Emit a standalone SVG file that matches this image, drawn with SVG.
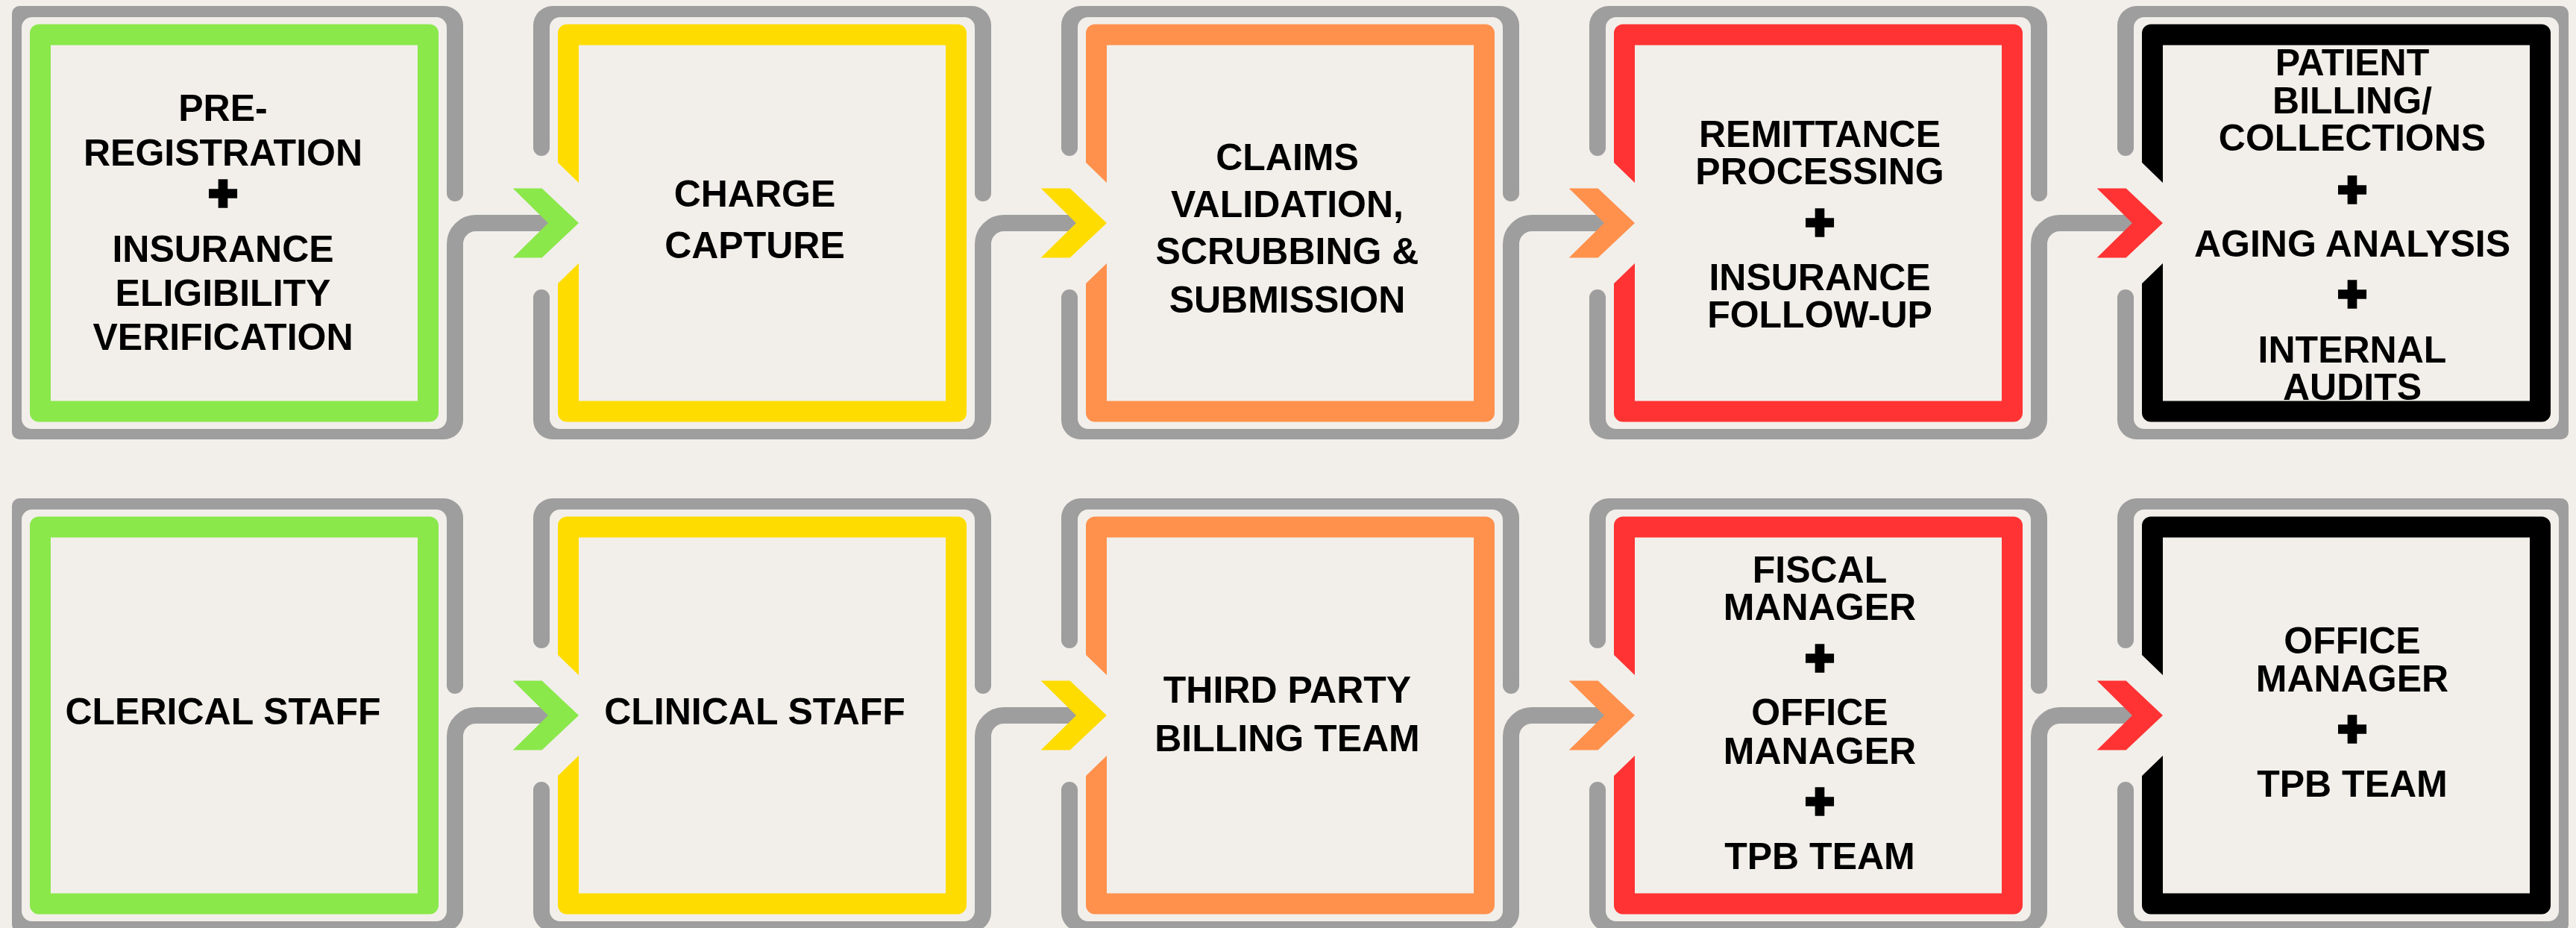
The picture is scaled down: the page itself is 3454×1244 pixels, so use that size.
<svg xmlns="http://www.w3.org/2000/svg" width="3454" height="1244" viewBox="0 0 3454 1244">
  <defs>
    <style>
      .bg{fill:#F2EFEA}
      .gray{fill:#9E9E9E}
      .frame{fill:#9E9E9E;fill-rule:evenodd}
      .link{fill:none;stroke:#9E9E9E;stroke-width:22}
      .green{fill:#8AE84A}
      .yellow{fill:#FFDC00}
      .orange{fill:#FF914D}
      .red{fill:#FF3333}
      .black{fill:#000000}
      .t{font-family:"Liberation Sans",Arial,sans-serif;font-weight:700;font-size:50px;text-anchor:middle;fill:#000}
      .p{font-family:"Liberation Sans",Arial,sans-serif;font-weight:700;font-size:65px;text-anchor:middle;fill:#000;stroke:#000;stroke-width:5.5;stroke-linejoin:miter}
    </style>
    <!-- gray outer frames, drawn for a box whose coloured band starts at x=0 -->
    <path id="gf-mid" class="frame" d="M-7,8 H555 A26,26 0 0 1 581,34 V563 A26,26 0 0 1 555,589 H-7 A26,26 0 0 1 -33,563 V34 A26,26 0 0 1 -7,8 Z M3,23 H545 A14,14 0 0 1 559,37 V561 A14,14 0 0 1 545,575 H3 A14,14 0 0 1 -11,561 V37 A14,14 0 0 1 3,23 Z"/>
    <path id="gf-first" class="frame" d="M-14,8 H555 A26,26 0 0 1 581,34 V563 A26,26 0 0 1 555,589 H-14 A10,10 0 0 1 -24,579 V18 A10,10 0 0 1 -14,8 Z M3,23 H545 A14,14 0 0 1 559,37 V561 A14,14 0 0 1 545,575 H3 A14,14 0 0 1 -11,561 V37 A14,14 0 0 1 3,23 Z"/>
    <path id="gf-last" class="frame" d="M-7,8 H562 A10,10 0 0 1 572,18 V579 A10,10 0 0 1 562,589 H-7 A26,26 0 0 1 -33,563 V34 A26,26 0 0 1 -7,8 Z M3,23 H545 A14,14 0 0 1 559,37 V561 A14,14 0 0 1 545,575 H3 A14,14 0 0 1 -11,561 V37 A14,14 0 0 1 3,23 Z"/>
    <!-- opening in the left side of a frame, with rounded stub ends -->
    <g id="gap-in">
      <rect class="bg" x="-34" y="198" width="24" height="201"/>
      <circle class="gray" cx="-22" cy="198" r="11"/>
      <circle class="gray" cx="-22" cy="399" r="11"/>
    </g>
    <!-- opening in the right side of a frame where the link leaves -->
    <g id="gap-out">
      <rect class="bg" x="558" y="259" width="24" height="69"/>
      <circle class="gray" cx="570" cy="259" r="11"/>
    </g>
    <!-- coloured band; fill comes from the referencing element -->
    <g id="band">
      <rect x="0" y="32.5" width="548" height="533" rx="12"/>
      <rect class="bg" x="28" y="60.5" width="492" height="477"/>
    </g>
    <polygon id="notch" class="bg" points="-2,216 29,246 29,352 -2,382"/>
    <path id="link" class="link" d="M570,340 V327 A28,28 0 0 1 598,299 H700"/>
    <polygon id="chev" points="647.7,252.5 686.7,252.5 736,299 686.7,345.5 647.7,345.5 695,299"/>
  </defs>

  <rect class="bg" x="0" y="0" width="3454" height="1244"/>

  <!-- ===== top row: process steps ===== -->
  <g id="node-pre-registration">
    <use href="#gf-first" x="40" y="0"/>
    <use href="#gap-out" x="40" y="0"/>
    <use href="#band" x="40" y="0" class="green"/>
    <text class="t" x="299" y="162">PRE-</text>
    <text class="t" x="299" y="221.5">REGISTRATION</text>
    <text class="p" x="299" y="280.5">+</text>
    <text class="t" x="299" y="351">INSURANCE</text>
    <text class="t" x="299" y="409.5">ELIGIBILITY</text>
    <text class="t" x="299" y="468.5">VERIFICATION</text>
  </g>

  <g id="node-charge-capture">
    <use href="#gf-mid" x="748" y="0"/>
    <use href="#gap-in" x="748" y="0"/>
    <use href="#gap-out" x="748" y="0"/>
    <use href="#band" x="748" y="0" class="yellow"/>
    <use href="#notch" x="748" y="0"/>
    <text class="t" x="1012" y="276.5">CHARGE</text>
    <text class="t" x="1012" y="346">CAPTURE</text>
  </g>

  <g id="node-claims">
    <use href="#gf-mid" x="1456" y="0"/>
    <use href="#gap-in" x="1456" y="0"/>
    <use href="#gap-out" x="1456" y="0"/>
    <use href="#band" x="1456" y="0" class="orange"/>
    <use href="#notch" x="1456" y="0"/>
    <text class="t" x="1726" y="227.5">CLAIMS</text>
    <text class="t" x="1726" y="290.5">VALIDATION,</text>
    <text class="t" x="1726" y="354">SCRUBBING &amp;</text>
    <text class="t" x="1726" y="418.5">SUBMISSION</text>
  </g>

  <g id="node-remittance">
    <use href="#gf-mid" x="2164" y="0"/>
    <use href="#gap-in" x="2164" y="0"/>
    <use href="#gap-out" x="2164" y="0"/>
    <use href="#band" x="2164" y="0" class="red"/>
    <use href="#notch" x="2164" y="0"/>
    <text class="t" x="2440" y="196.5">REMITTANCE</text>
    <text class="t" x="2440" y="247">PROCESSING</text>
    <text class="p" x="2440" y="320">+</text>
    <text class="t" x="2440" y="388.7">INSURANCE</text>
    <text class="t" x="2440" y="439">FOLLOW-UP</text>
  </g>

  <g id="node-patient-billing">
    <use href="#gf-last" x="2872" y="0"/>
    <use href="#gap-in" x="2872" y="0"/>
    <use href="#band" x="2872" y="0" class="black"/>
    <use href="#notch" x="2872" y="0"/>
    <text class="t" x="3154" y="100.8">PATIENT</text>
    <text class="t" x="3154" y="152.2">BILLING/</text>
    <text class="t" x="3154" y="202.4">COLLECTIONS</text>
    <text class="p" x="3154" y="276">+</text>
    <text class="t" x="3154" y="344">AGING ANALYSIS</text>
    <text class="p" x="3154" y="416.2">+</text>
    <text class="t" x="3154" y="485.6">INTERNAL</text>
    <text class="t" x="3154" y="535.8">AUDITS</text>
  </g>

  <!-- ===== bottom row: responsible staff ===== -->
  <g id="node-clerical-staff">
    <use href="#gf-first" x="40" y="660"/>
    <use href="#gap-out" x="40" y="660"/>
    <use href="#band" x="40" y="660" class="green"/>
    <text class="t" x="299" y="970.5">CLERICAL STAFF</text>
  </g>

  <g id="node-clinical-staff">
    <use href="#gf-mid" x="748" y="660"/>
    <use href="#gap-in" x="748" y="660"/>
    <use href="#gap-out" x="748" y="660"/>
    <use href="#band" x="748" y="660" class="yellow"/>
    <use href="#notch" x="748" y="660"/>
    <text class="t" x="1012" y="971">CLINICAL STAFF</text>
  </g>

  <g id="node-third-party-billing">
    <use href="#gf-mid" x="1456" y="660"/>
    <use href="#gap-in" x="1456" y="660"/>
    <use href="#gap-out" x="1456" y="660"/>
    <use href="#band" x="1456" y="660" class="orange"/>
    <use href="#notch" x="1456" y="660"/>
    <text class="t" x="1726" y="941.5">THIRD PARTY</text>
    <text class="t" x="1726" y="1006.5">BILLING TEAM</text>
  </g>

  <g id="node-fiscal-manager">
    <use href="#gf-mid" x="2164" y="660"/>
    <use href="#gap-in" x="2164" y="660"/>
    <use href="#gap-out" x="2164" y="660"/>
    <use href="#band" x="2164" y="660" class="red"/>
    <use href="#notch" x="2164" y="660"/>
    <text class="t" x="2440" y="780.6">FISCAL</text>
    <text class="t" x="2440" y="831.4">MANAGER</text>
    <text class="p" x="2440" y="904">+</text>
    <text class="t" x="2440" y="972">OFFICE</text>
    <text class="t" x="2440" y="1024">MANAGER</text>
    <text class="p" x="2440" y="1096">+</text>
    <text class="t" x="2440" y="1164.7">TPB TEAM</text>
  </g>

  <g id="node-office-manager">
    <use href="#gf-last" x="2872" y="660"/>
    <use href="#gap-in" x="2872" y="660"/>
    <use href="#band" x="2872" y="660" class="black"/>
    <use href="#notch" x="2872" y="660"/>
    <text class="t" x="3154" y="876">OFFICE</text>
    <text class="t" x="3154" y="927.3">MANAGER</text>
    <text class="p" x="3154" y="998.7">+</text>
    <text class="t" x="3154" y="1067.6">TPB TEAM</text>
  </g>

  <!-- ===== connectors: gray link line ending in a coloured chevron ===== -->
  <g id="connectors">
    <g class="green"><use href="#link" x="40" y="0"/><use href="#chev" x="40" y="0"/></g>
    <g class="yellow"><use href="#link" x="748" y="0"/><use href="#chev" x="748" y="0"/></g>
    <g class="orange"><use href="#link" x="1456" y="0"/><use href="#chev" x="1456" y="0"/></g>
    <g class="red"><use href="#link" x="2164" y="0"/><use href="#chev" x="2164" y="0"/></g>
    <g class="green"><use href="#link" x="40" y="660"/><use href="#chev" x="40" y="660"/></g>
    <g class="yellow"><use href="#link" x="748" y="660"/><use href="#chev" x="748" y="660"/></g>
    <g class="orange"><use href="#link" x="1456" y="660"/><use href="#chev" x="1456" y="660"/></g>
    <g class="red"><use href="#link" x="2164" y="660"/><use href="#chev" x="2164" y="660"/></g>
  </g>
</svg>
